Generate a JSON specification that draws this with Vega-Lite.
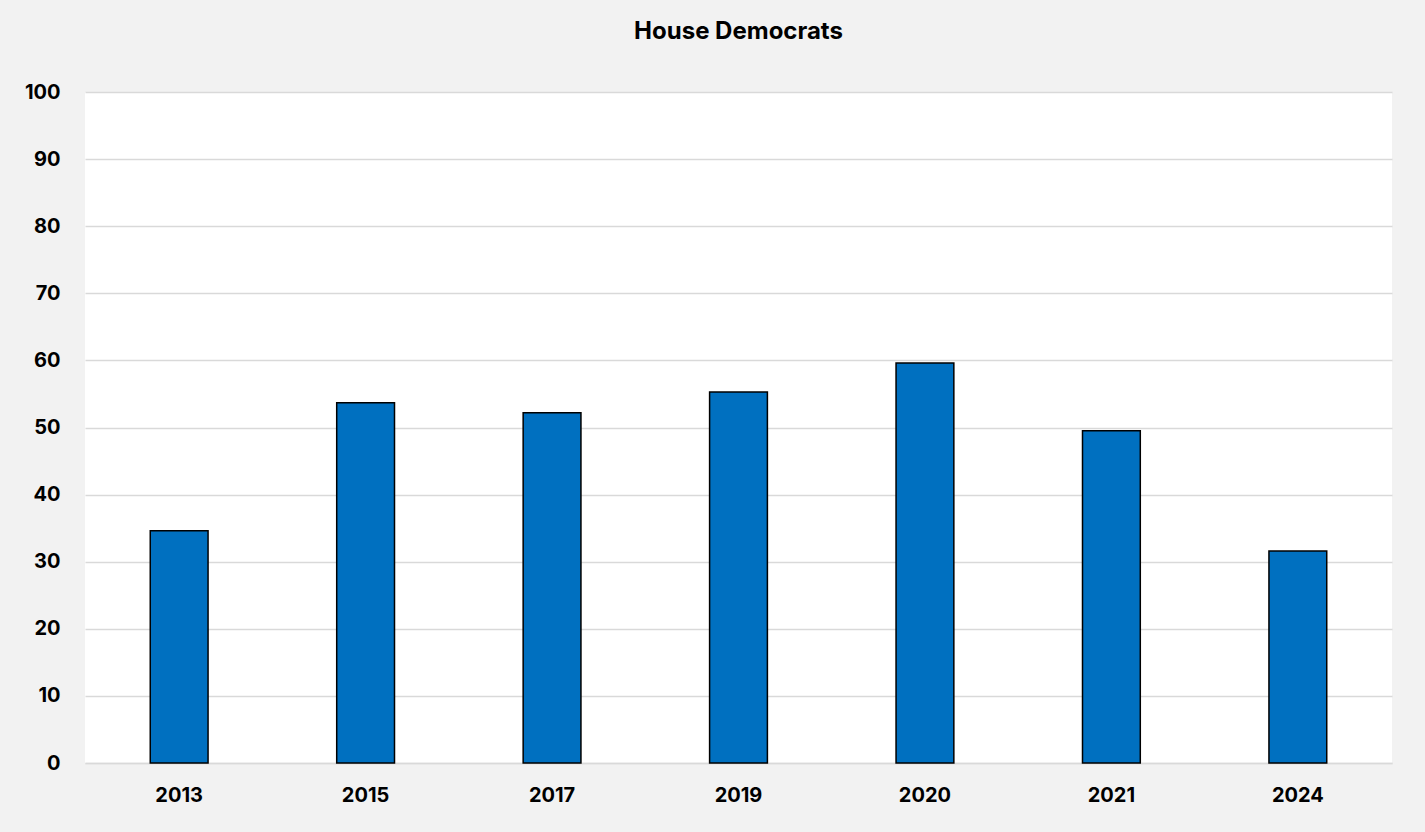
{
"$schema":"https://vega.github.io/schema/vega-lite/v6.json",
"autosize":{"type":"none"},
"width":1307,"height":671,
"padding":{"left":85,"top":92,"right":33,"bottom":69},
"background":"#f2f2f2",
"view":{"fill":"#ffffff","stroke":null},
"title":{"text":"House Democrats","font":"Inter","fontSize":24,"fontWeight":"bold","color":"#000000","offset":38,"anchor":"middle"},
"data":{"values":[
{"year":"2013","value":34.6},
{"year":"2015","value":53.7},
{"year":"2017","value":52.2},
{"year":"2019","value":55.3},
{"year":"2020","value":59.6},
{"year":"2021","value":49.5},
{"year":"2024","value":31.6}
]},
"mark":{"type":"bar","color":"#0070c0","stroke":"#000000","strokeWidth":1.5},
"encoding":{
"x":{"field":"year","type":"ordinal","title":null,"scale":{"paddingInner":0.69,"paddingOuter":0.35},
"axis":{"labelAngle":0,"labelFont":"Inter","labelFontSize":20,"labelFontWeight":"bold","labelColor":"#000","ticks":false,"domainColor":"#d9d9d9","domainWidth":1.5,"labelPadding":22}},
"y":{"field":"value","type":"quantitative","title":null,"scale":{"domain":[0,100]},
"axis":{"values":[0,10,20,30,40,50,60,70,80,90,100],"labelFont":"Inter","labelFontSize":20,"labelFontWeight":"bold","labelColor":"#000","ticks":false,"domain":false,"gridColor":"#d9d9d9","gridWidth":1.5,"labelPadding":25}}
}
}
